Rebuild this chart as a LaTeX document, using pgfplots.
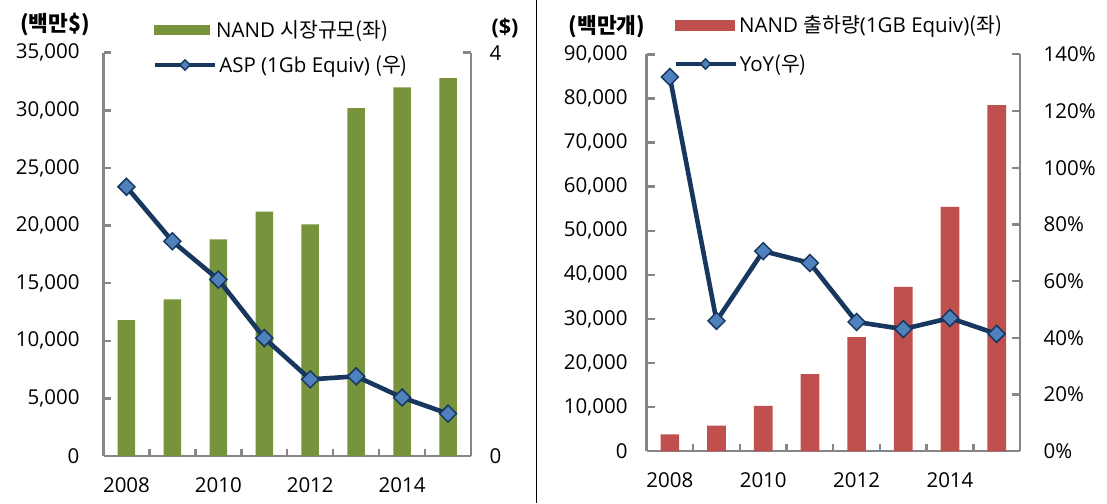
\documentclass[border=0pt]{standalone}
\usepackage{pgfplots}
\pgfplotsset{compat=1.18}
\usepackage{pgfplotstable}
\usepackage{fontspec}
\setmainfont{Open Sans}
\newfontfamily\kr{Noto Sans CJK KR}
\definecolor{barG}{HTML}{77933C}
\definecolor{barR}{HTML}{C0504D}
\definecolor{navy}{HTML}{17375E}
\definecolor{mk}{HTML}{4F81BD}
\definecolor{axc}{HTML}{868686}

\pgfplotstableread{
x year market asp
0 2008 11800 2.67
1 2009 13600 2.13
2 2010 18800 1.75
3 2011 21200 1.17
4 2012 20100 0.76
5 2013 30200 0.79
6 2014 32000 0.58
7 2015 32800 0.42
}\leftdata

\pgfplotstableread{
x year ship yoy
0 2008 3850 132
1 2009 5800 46
2 2010 10300 70.6
3 2011 17500 66.4
4 2012 25900 45.6
5 2013 37300 43.1
6 2014 55400 47
7 2015 78500 41.4
}\rightdata

\pgfplotsset{
  base/.style={
    scale only axis, xmin=-0.5, xmax=7.5,
    tick align=inside, major tick length=8pt, minor tick length=7pt,
    axis line style={axc, line width=2.4pt, -},
    tick style={axc, line width=2.4pt},
    /pgf/number format/assume math mode=true,
    font=\fontsize{20.5}{24}\selectfont,
    clip=false,
  },
  barax/.style={
    base, axis x line*=bottom, axis y line*=left,
    xtick={0,2,4,6}, xticklabels={2008,2010,2012,2014},
    minor xtick={0.5,1.5,...,6.5},
    major x tick style={draw=none},
    xticklabel style={yshift=-18pt},
    scaled y ticks=false,
    yticklabel style={/pgf/number format/1000 sep={,}},
    legend style={draw=none, fill=none, inner sep=0pt, anchor=west,
      font=\fontsize{20.5}{24}\selectfont, cells={anchor=west}},
  },
  lineax/.style={
    base, axis y line*=right, axis x line=none,
    legend style={draw=none, fill=none, inner sep=0pt, anchor=west,
      font=\fontsize{20.5}{24}\selectfont, cells={anchor=west}},
    legend image code/.code={\draw[mark repeat=2,mark phase=2,##1,mark size=3.6pt]
      plot coordinates {(0pt,0pt) (30pt,0pt) (60pt,0pt)};},
  },
  linestyle/.style={navy, line width=4.6pt, mark=square*, mark size=6pt,
    mark options={rotate=45, fill=mk, draw=navy, line width=1.5pt}},
}

\begin{document}
\begin{tikzpicture}
\path[use as bounding box] (0pt,0pt) rectangle (1107pt,503pt);

% ---------- left panel ----------
\begin{axis}[barax, at={(103.5pt,47pt)}, anchor=south west,
  width=367.5pt, height=403.3pt,
  ymin=0, ymax=35000, ytick={0,5000,...,35000},
  yticklabel style={xshift=-20.5pt},
  legend style={at={(0.1374,1.0563)}},
  legend image code/.code={\fill[barG] (0pt,-5pt) rectangle (56pt,5pt); \path (0pt,0pt) -- (60pt,0pt);},
]
\addplot[ybar, bar width=0.38, fill=barG, draw=none] table[x=x,y=market]{\leftdata};
\addlegendentry{NAND {\kr 시장규모(좌)}}
\node[font=\fontsize{21.5}{24}\selectfont\kr\bfseries] at (axis description cs:-0.132,1.0687) {(백만\$)};
\node[font=\fontsize{21.5}{24}\selectfont\bfseries] at (axis description cs:1.0925,1.0613) {(\$)};
\end{axis}
\begin{axis}[lineax, at={(103.5pt,47pt)}, anchor=south west,
  width=367.5pt, height=403.3pt,
  ymin=0, ymax=4, ytick={0,4},
  yticklabel style={xshift=15.2pt},
  legend style={at={(0.1333,0.9695)}},
]
\addplot[linestyle] table[x=x,y=asp]{\leftdata};
\addlegendentry{ASP (1Gb Equiv) {\kr (우)}}
\end{axis}

% ---------- right panel ----------
\begin{axis}[barax, at={(646.5pt,51.7pt)}, anchor=south west,
  width=373.5pt, height=397pt,
  ymin=0, ymax=90000, ytick={0,10000,...,90000},
  yticklabel style={xshift=-15.5pt},
  legend style={at={(0.0763,1.0738)}},
  legend image code/.code={\fill[barR] (0pt,-5.5pt) rectangle (60pt,5.5pt); \path (0pt,0pt) -- (62pt,0pt);},
]
\addplot[ybar, bar width=0.4, fill=barR, draw=none] table[x=x,y=ship]{\rightdata};
\addlegendentry{NAND {\kr 출하량}(1GB Equiv){\kr (좌)}}
\node[font=\fontsize{21.5}{24}\selectfont\kr\bfseries] at (axis description cs:-0.1058,1.0688) {(백만개)};
\end{axis}
\begin{axis}[lineax, at={(646.5pt,51.7pt)}, anchor=south west,
  width=373.5pt, height=397pt,
  ymin=0, ymax=140, ytick={0,20,...,140},
  yticklabel={\pgfmathprintnumber{\tick}\%},
  yticklabel style={xshift=20.2pt},
  legend style={at={(0.0710,0.9756)}},
]
\addplot[linestyle] table[x=x,y=yoy]{\rightdata};
\addlegendentry{YoY{\kr (우)}}
\end{axis}

\draw[black, line width=1pt] (536pt,0pt) -- (536pt,503pt);
\end{tikzpicture}
\end{document}
